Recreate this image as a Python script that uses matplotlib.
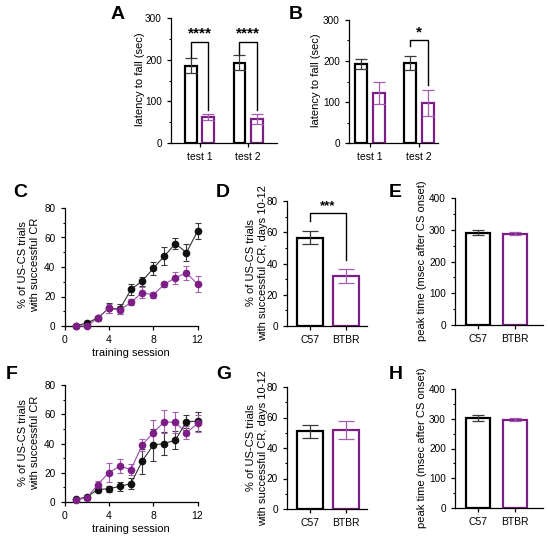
import numpy as np
import matplotlib
matplotlib.use("Agg")
import matplotlib.pyplot as plt
from matplotlib.ticker import MultipleLocator

plt.rcParams['font.family'] = ['Liberation Sans', 'DejaVu Sans']
plt.rcParams['axes.linewidth'] = 0.9
plt.rcParams['xtick.major.width'] = 0.9
plt.rcParams['ytick.major.width'] = 0.9
plt.rcParams['ytick.minor.width'] = 0.8
plt.rcParams['xtick.major.size'] = 3
plt.rcParams['ytick.major.size'] = 3
plt.rcParams['ytick.minor.size'] = 1.8
plt.rcParams['xtick.labelsize'] = 7.5
plt.rcParams['ytick.labelsize'] = 7.2
plt.rcParams['axes.labelsize'] = 8

# --- Data ---
tests = ["test 1", "test 2"]
strains = ["C57", "BTBR"]

# A, B: latency to fall (sec)
a_c57 = [185, 193]
a_c57_err = [18, 18]
a_btbr = [62, 58]
a_btbr_err = [7, 12]

b_c57 = [192, 196]
b_c57_err = [12, 17]
b_btbr = [122, 97]
b_btbr_err = [28, 32]

# C, F: % CR per training session
sessions = np.arange(1, 13)
c_c57 = [0, 2, 5.5, 12, 11.5, 24.8, 30.4, 39, 47.3, 55.9, 49.8, 64.2]
c_c57_err = [0.3, 0.8, 1.2, 3.5, 3.5, 4, 3, 4.5, 6, 4, 6, 5.5]
c_btbr = [0, 0, 5.2, 12, 10.8, 16, 22.7, 21, 28.2, 32.7, 36, 28.4]
c_btbr_err = [0.3, 0.5, 1.5, 3, 2.5, 2, 3.5, 2, 1.5, 4, 5, 5.5]

f_c57 = [1.8, 3.4, 8.5, 9.1, 10.7, 12.6, 27.9, 38.9, 40, 42.3, 54.9, 55.3]
f_c57_err = [1, 1, 2, 2, 3, 3.5, 8.5, 11, 8, 6, 4.5, 6.5]
f_btbr = [1.6, 2.7, 11.9, 20.1, 24.5, 22.2, 38.9, 47.3, 54.9, 54.4, 47.3, 53.7]
f_btbr_err = [0.8, 1, 2.5, 6.5, 5, 4, 4, 8.5, 8, 7, 4.5, 6]

# D, G: % CR days 10-12
d_vals = [56.5, 32]
d_err = [4.2, 4.2]
g_vals = [51, 51.6]
g_err = [4.3, 6]

# E, H: peak time (msec after CS onset)
e_vals = [290, 288]
e_err = [8, 5]
h_vals = [302.5, 297]
h_err = [9, 4]

purple = '#7d1e87'
purple_err = '#a45fb0'
black_err = '#3a3a3a'

W, H = 550, 540
fig = plt.figure(figsize=(W / 100, H / 100), dpi=100)


def px_axes(l, t, r, b):
    ax = fig.add_axes([l / W, 1 - b / H, (r - l) / W, (b - t) / H])
    ax.spines['top'].set_visible(False)
    ax.spines['right'].set_visible(False)
    return ax


def set_ylabel_px(ax, text, x_right, y_center):
    ax.set_ylabel(text, multialignment='center')
    ax.yaxis.set_label_coords(x_right / W, 1 - y_center / H, transform=fig.transFigure)


def panel_letter(letter, x, y):
    fig.text(x / W, 1 - y / H, letter, fontsize=14, fontweight='bold', va='top', ha='left')


def bracket(ax, x1, x2, top, left_bottom, right_bottom, stars, star_y, size):
    ax.plot([x1, x1, x2, x2], [left_bottom, top, top, right_bottom], color='black', lw=1.0,
            clip_on=False)
    ax.text((x1 + x2) / 2, star_y, stars, ha='center', va='center', fontsize=size,
            fontweight='bold')


def grouped_bars(ax, c57, c57_err, btbr, btbr_err, xlim):
    x = np.arange(len(tests))
    off, w = 0.18, 0.245
    ax.bar(x - off, c57, width=w, facecolor='white', edgecolor='black', linewidth=1.6)
    ax.bar(x + off, btbr, width=w, facecolor='white', edgecolor=purple, linewidth=1.6)
    ax.errorbar(x - off, c57, yerr=c57_err, fmt='none', ecolor=black_err, elinewidth=0.9,
                capsize=4, capthick=0.9)
    ax.errorbar(x + off, btbr, yerr=btbr_err, fmt='none', ecolor=purple_err, elinewidth=0.9,
                capsize=4, capthick=0.9)
    ax.set_xticks(x)
    ax.set_xticklabels(tests)
    ax.set_xlim(*xlim)
    ax.set_ylim(0, 300)
    ax.yaxis.set_major_locator(MultipleLocator(100))
    ax.yaxis.set_minor_locator(MultipleLocator(50))
    return x, off


def line_panel(ax, c57, c57_err, btbr, btbr_err):
    ax.errorbar(sessions, c57, yerr=c57_err, color='#333333', lw=0.8, ecolor=black_err,
                elinewidth=0.8, capsize=2.3, capthick=0.8, marker='o', markersize=4.5,
                markerfacecolor='#111111', markeredgecolor='#111111', clip_on=False, zorder=3)
    ax.errorbar(sessions, btbr, yerr=btbr_err, color='#9a4fa6', lw=0.8, ecolor=purple_err,
                elinewidth=0.8, capsize=2.3, capthick=0.8, marker='o', markersize=4.5,
                markerfacecolor=purple, markeredgecolor=purple, clip_on=False, zorder=3)
    ax.set_xlim(0, 12)
    ax.set_ylim(0, 80)
    ax.set_xticks([0, 4, 8, 12])
    ax.yaxis.set_major_locator(MultipleLocator(20))
    ax.yaxis.set_minor_locator(MultipleLocator(10))
    ax.set_xlabel("training session", labelpad=2)


def strain_bars(ax, vals, err, xlim, ymax, major, width, cap):
    x = np.arange(len(strains))
    ax.bar(x, vals, width=width, facecolor='white', edgecolor=['black', purple], linewidth=1.6)
    ax.errorbar(x[0], vals[0], yerr=err[0], fmt='none', ecolor=black_err, elinewidth=0.9,
                capsize=cap, capthick=0.9)
    ax.errorbar(x[1], vals[1], yerr=err[1], fmt='none', ecolor=purple_err, elinewidth=0.9,
                capsize=cap, capthick=0.9)
    ax.set_xticks(x)
    ax.set_xticklabels(strains)
    ax.set_xlim(*xlim)
    ax.set_ylim(0, ymax)
    ax.yaxis.set_major_locator(MultipleLocator(major))
    ax.yaxis.set_minor_locator(MultipleLocator(major / 2))
    return x


cr_label = "% of US-CS trials\nwith successful CR"
cr_days_label = "% of US-CS trials\nwith successful CR, days 10-12"
peak_label = "peak time (msec after CS onset)"

# --- A ---
axA = px_axes(171, 18, 277, 143)
x, off = grouped_bars(axA, a_c57, a_c57_err, a_btbr, a_btbr_err, (-0.585, 1.59))
set_ylabel_px(axA, "latency to fall (sec)", 145, 79)
bracket(axA, x[0] - off, x[0] + off, 243, 206, 79, "****", 264, 11)
bracket(axA, x[1] - off, x[1] + off, 243, 214, 79, "****", 264, 11)
panel_letter("A", 111, 6)

# --- B ---
axB = px_axes(349, 20, 438, 143)
x, off = grouped_bars(axB, b_c57, b_c57_err, b_btbr, b_btbr_err, (-0.43, 1.39))
set_ylabel_px(axB, "latency to fall (sec)", 321, 80)
bracket(axB, x[1] - off, x[1] + off, 251, 236, 142, "*", 270, 11)
panel_letter("B", 289, 6)

# --- C ---
axC = px_axes(64.5, 208, 197.5, 326)
line_panel(axC, c_c57, c_c57_err, c_btbr, c_btbr_err)
set_ylabel_px(axC, cr_label, 40, 265)
panel_letter("C", 13, 184)

# --- D ---
axD = px_axes(287, 201, 367, 326)
x = strain_bars(axD, d_vals, d_err, (-0.64, 1.58), 80, 20, 0.72, 5.5)
set_ylabel_px(axD, cr_days_label, 268, 263)
bracket(axD, x[0], x[1], 72, 67.5, 42.5, "***", 76.5, 9.5)
panel_letter("D", 216, 184)

# --- E ---
axE = px_axes(455, 198, 543, 325)
strain_bars(axE, e_vals, e_err, (-0.62, 1.76), 400, 100, 0.65, 4)
set_ylabel_px(axE, peak_label, 427, 261)
panel_letter("E", 389, 184)

# --- F ---
axF = px_axes(64.5, 385, 197.5, 502)
line_panel(axF, f_c57, f_c57_err, f_btbr, f_btbr_err)
set_ylabel_px(axF, cr_label, 40, 443)
panel_letter("F", 6, 366)

# --- G ---
axG = px_axes(287, 387, 367, 509)
strain_bars(axG, g_vals, g_err, (-0.64, 1.58), 80, 20, 0.72, 5.5)
set_ylabel_px(axG, cr_days_label, 268, 448)
panel_letter("G", 216, 366)

# --- H ---
axH = px_axes(455, 389, 543, 508)
strain_bars(axH, h_vals, h_err, (-0.62, 1.76), 400, 100, 0.65, 4)
set_ylabel_px(axH, peak_label, 427, 448)
panel_letter("H", 389, 366)

fig.savefig("out.png", dpi=100)
